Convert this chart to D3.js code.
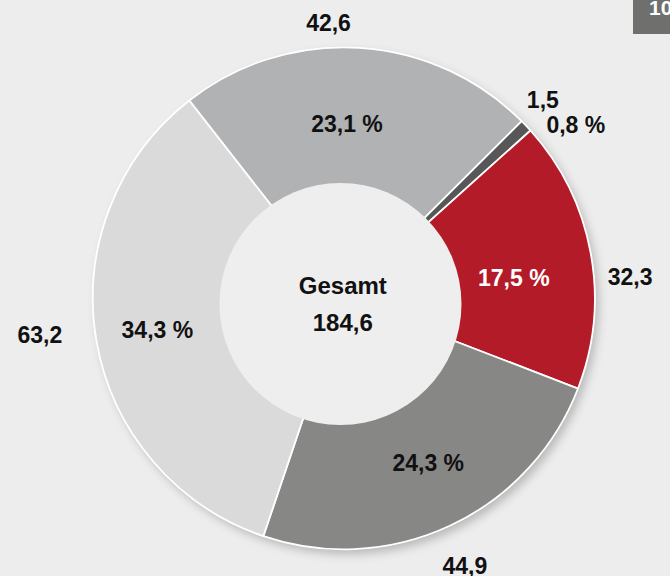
<!DOCTYPE html>
<html>
<head>
<meta charset="utf-8">
<script src="https://cdn.jsdelivr.net/npm/d3@7"></script>
<style>
  html,body{margin:0;padding:0;background:#ededed;}
  svg{display:block;}
  text{font-family:"Liberation Sans",Arial,sans-serif;font-weight:bold;}
</style>
</head>
<body>
<div id="chart"></div>
<script>
/*Donut: Anteile Gesamt 184,6*/

// data
var values = [42.6, 1.5, 32.3, 44.9, 63.2];
var valueLabels = ["42,6", "1,5", "32,3", "44,9", "63,2"];
var shareLabels = ["23,1 %", "0,8 %", "17,5 %", "24,3 %", "34,3 %"];
var colors = ["#b1b2b4", "#575757", "#b31b29", "#878786", "#dadada"];
var centerLabels = ["Gesamt", "184,6"];

var w = 670, h = 576;
var cx = 343.8, cy = 298.3, rOuter = 251, rHole = 121;

var svg = d3.select("#chart")
  .append("svg")
  .attr("width", w)
  .attr("height", h);

svg.append("rect").attr("width", w).attr("height", h).attr("fill", "#ededed");

var defs = svg.append("defs");
var f = defs.append("filter").attr("id", "shadow")
  .attr("x", "-10%").attr("y", "-10%").attr("width", "125%").attr("height", "125%");
f.append("feDropShadow")
  .attr("dx", 4).attr("dy", 5).attr("stdDeviation", 5)
  .attr("flood-color", "#000").attr("flood-opacity", 0.22);

var g = svg.append("g").attr("transform", `translate(${cx},${cy})`);

var start = -38 * Math.PI / 180;
var pie = d3.pie().sort(null).value(function(d){return d;})
  .startAngle(start).endAngle(start + 2 * Math.PI);
var arcs = pie(values);

var arc = d3.arc().innerRadius(0).outerRadius(rOuter);

// shadow under ring
g.append("circle").attr("r", rOuter).attr("fill", "#ededed").attr("filter", "url(#shadow)");

g.selectAll("path.slice")
  .data(arcs).enter()
  .append("path")
  .attr("class", "slice")
  .attr("d", arc)
  .attr("fill", function(d, i){return colors[i];})
  .attr("stroke", "#fff")
  .attr("stroke-width", 1.8)
  .attr("stroke-linejoin", "round");

// hole (slightly off-centre like the original)
g.append("circle")
  .attr("cx", -3.3).attr("cy", 5.7)
  .attr("r", rHole)
  .attr("fill", "#eeeeee");

// label arcs
var inArc = d3.arc().innerRadius(180).outerRadius(180);
var outArc = d3.arc().innerRadius(285).outerRadius(285);
// manual nudges for readability
var inNudge = [[-8, 5], [25, 22], [-7, 12], [8, 1], [-9, 1]];
var outNudge = [[-33, 9], [-8, -3], [6, 30], [0, 9], [-23, -11]];

g.selectAll("text.share")
  .data(arcs).enter()
  .append("text")
  .attr("class", "share")
  .attr("transform", function(d, i){
    var c = (i === 1 ? outArc : inArc).centroid(d);
    return `translate(${c[0] + inNudge[i][0]},${c[1] + inNudge[i][1]})`;
  })
  .attr("dy", "0.36em")
  .attr("text-anchor", "middle")
  .attr("font-size", 23)
  .attr("fill", function(d, i){return i === 2 ? "#fff" : "#111";})
  .text(function(d, i){return shareLabels[i];});

g.selectAll("text.val")
  .data(arcs).enter()
  .append("text")
  .attr("class", "val")
  .attr("transform", function(d, i){
    var c = outArc.centroid(d);
    return `translate(${c[0] + outNudge[i][0]},${c[1] + outNudge[i][1]})`;
  })
  .attr("dy", "0.36em")
  .attr("text-anchor", "middle")
  .attr("font-size", 23)
  .attr("fill", "#111")
  .text(function(d, i){return valueLabels[i];});

g.selectAll("text.center")
  .data(centerLabels).enter()
  .append("text")
  .attr("class", "center")
  .attr("x", -1)
  .attr("y", function(d, i){return i === 0 ? -4 : 33;})
  .attr("text-anchor", "middle")
  .attr("font-size", 24)
  .attr("fill", "#111")
  .text(function(d){return d;});

// page badge, cut at the edge
svg.append("rect").attr("x", 633).attr("y", 0).attr("width", 40).attr("height", 34).attr("fill", "#6f6f6e");
svg.append("text").attr("x", 649).attr("y", 15).attr("font-size", 21).attr("fill", "#fff").text("10");
</script>
</body>
</html>
